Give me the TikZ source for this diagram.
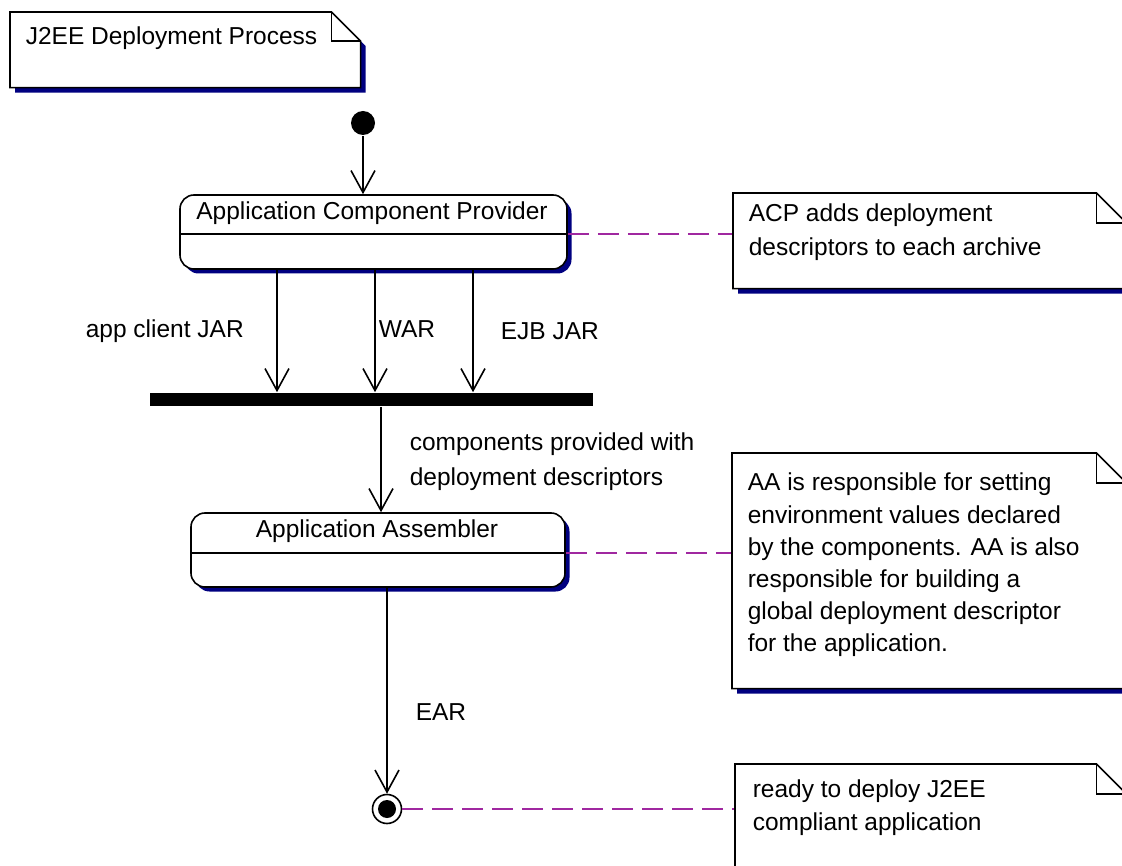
\documentclass[tikz,border=0pt]{standalone}
\usepackage{fontspec}
\setmainfont{Liberation Sans}
\usetikzlibrary{arrows.meta,shadows}
\definecolor{shade}{RGB}{0,0,128}
\definecolor{linkcol}{RGB}{160,40,160}

\begin{document}
\begin{tikzpicture}[x=1pt,y=-1pt,
  font=\fontsize{24.5}{32.5}\selectfont,
  line width=1.6pt,
  solid shadow/.style={general shadow={fill=shade, shadow xshift=#1, shadow yshift=-#1}},
  activity/.style={draw, fill=white, rounded corners=14pt, inner sep=0pt, solid shadow=4.5pt},
  notearea/.style={inner sep=0pt, anchor=north west},
  notepaper/.style={draw, fill=white, solid shadow=5pt},
  lbl/.style={inner sep=0pt, anchor=base west},
  notetext/.style={inner sep=0pt, anchor=north west, align=left},
  flow/.style={-{Straight Barb[length=22pt,width=24pt,line width=1.6pt]}},
  notelink/.style={draw=linkcol, line width=2.2pt, dash pattern=on 21pt off 9pt},
]
\useasboundingbox (0,0) rectangle (1122,866);
\clip (0,0) rectangle (1122,866);

% title note
\node[notearea, minimum width=349pt, minimum height=74pt] (title) at (10,12) {};
\draw[notepaper] (title.north west) -- ([xshift=-29pt]title.north east)
  -- ([yshift=-29pt]title.north east) -- (title.south east) -- (title.south west) -- cycle;
\draw ([xshift=-29pt]title.north east) |- ([yshift=-29pt]title.north east);
\node[lbl] (titletext) at (25,45) {J2EE Deployment Process};

% initial state
\node[circle, fill=black, minimum size=24pt, inner sep=0pt] (start) at (363,123) {};

% Application Component Provider
\node[activity, minimum width=387pt, minimum height=74pt] (acp) at (373.5,232) {};
\draw ([yshift=-2pt]acp.west) -- ([yshift=-2pt]acp.east);
\node[inner sep=0pt, anchor=base] (acptext) at (372,219.3) {Application Component Provider};

\draw[flow] (start) -- (start |- acp.north);

% synchronisation bar
\node[fill=black, minimum width=443pt, minimum height=13pt, inner sep=0pt] (join) at (371.5,399.5) {};

\draw[flow] ([xshift=-96.5pt]acp.south) -- ([xshift=-96.5pt]acp.south |- join.north);
\draw[flow] ([xshift=1.5pt]acp.south) -- ([xshift=1.5pt]acp.south |- join.north);
\draw[flow] ([xshift=99.5pt]acp.south) -- ([xshift=99.5pt]acp.south |- join.north);
\node[lbl] (lclient) at (85,338) {app client JAR};
\node[lbl] (lwar) at (378,338) {WAR};
\node[lbl] (lejb) at (500,340) {EJB JAR};

% Application Assembler
\node[activity, minimum width=374pt, minimum height=74pt] (aa) at (378,550) {};
\draw ([yshift=-3pt]aa.west) -- ([yshift=-3pt]aa.east);
\node[inner sep=0pt, anchor=base] (aatext) at (377,537.7) {Application Assembler};

\draw[flow] ([xshift=9.5pt]join.south) -- ([xshift=9.5pt]join.south |- aa.north);
\node[notetext, font=\fontsize{24.5}{35}\selectfont] (lcomp) at (409,432.4)
  {components provided with\\deployment descriptors};

% final state
\node[circle, draw, fill=white, minimum size=29pt, inner sep=0pt,
  path picture={\fill[black] (path picture bounding box.center) circle[radius=9pt];}] (stop) at (387,809) {};
\draw[flow] (aa.south -| stop) -- (stop);
\node[lbl] (lear) at (415,720) {EAR};

% attached notes
\draw[notelink] ([yshift=-2pt]acp.east) -- ++(166,0) coordinate (l1);
\draw[notelink] ([yshift=-3pt]aa.east) -- ++(167,0) coordinate (l2);
\draw[notelink] (stop.east) -- ++(334,0) coordinate (l3);

\node[notearea, minimum width=392pt, minimum height=94pt] (n1) at (733,193) {};
\draw[notepaper] (n1.north west) -- ([xshift=-30pt]n1.north east)
  -- ([yshift=-30pt]n1.north east) -- (n1.south east) -- (n1.south west) -- cycle;
\draw ([xshift=-30pt]n1.north east) |- ([yshift=-30pt]n1.north east);
\node[notetext, font=\fontsize{24.5}{34}\selectfont] (n1text) at (748,203)
  {ACP adds deployment\\descriptors to each archive};

\node[notearea, minimum width=393pt, minimum height=234pt] (n2) at (732,453) {};
\draw[notepaper] (n2.north west) -- ([xshift=-30pt]n2.north east)
  -- ([yshift=-30pt]n2.north east) -- (n2.south east) -- (n2.south west) -- cycle;
\draw ([xshift=-30pt]n2.north east) |- ([yshift=-30pt]n2.north east);
\node[notetext, font=\fontsize{24.5}{32.2}\selectfont] (n2text) at (747,472.4)
  {AA is responsible for setting\\environment values declared\\by the components. AA is also\\responsible for building a\\global deployment descriptor\\for the application.};

\node[notearea, minimum width=390pt, minimum height=140pt] (n3) at (735,764) {};
\draw[notepaper] (n3.north west) -- ([xshift=-30pt]n3.north east)
  -- ([yshift=-30pt]n3.north east) -- (n3.south east) -- (n3.south west) -- cycle;
\draw ([xshift=-30pt]n3.north east) |- ([yshift=-30pt]n3.north east);
\node[notetext, font=\fontsize{24.5}{33}\selectfont] (n3text) at (752,779.4)
  {ready to deploy J2EE\\compliant application};
\end{tikzpicture}
\end{document}
